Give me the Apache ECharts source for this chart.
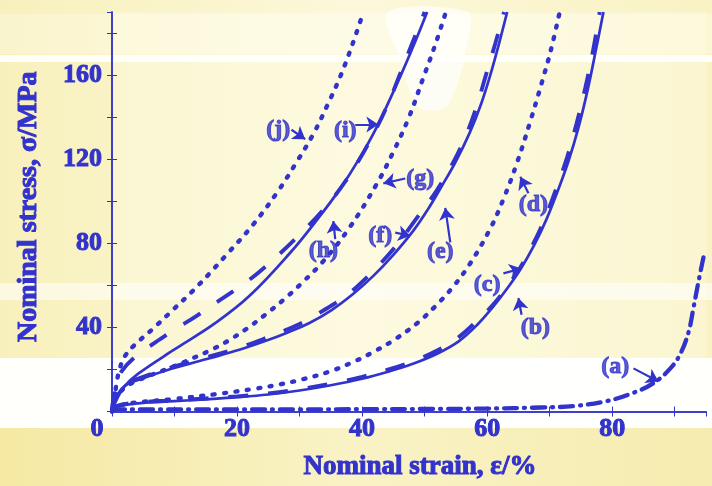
<!DOCTYPE html>
<html><head><meta charset="utf-8">
<script src="https://cdn.jsdelivr.net/npm/echarts@6/dist/echarts.min.js"></script>
<style>html,body{margin:0;padding:0;background:#faf4c8}#c{width:712px;height:486px}</style>
</head><body><div id="c"></div>
<script>
// ---- data (strain %, stress MPa) ----
const xTickLabels = [0, 20, 40, 60, 80];
const yTickLabels = [40, 80, 120, 160];

const curveA = [[0,1],[10,1],[20,1],[30,1],[40,1.1],[50,1.2],[60,1.4],[68.5,1.9],[73.8,2.6],[79.2,5],[83.4,8.9],[86.6,13.5],[89.3,20.5],[90.9,27.5],[92.2,37.7],[93,49.3],[93.8,61.8],[94.6,73.4]];
const curveB = [[0,0],[0.6,2],[4.2,3.9],[10,4.9],[15,5.8],[20,6.8],[25,8.1],[30,10],[35,12.5],[40,15.6],[44,18.8],[48,22.6],[52,27.5],[55.5,33.5],[58.5,41.5],[61,50],[63.2,58.5],[65.3,67.5],[67.5,79],[69.5,91.5],[71.3,105],[73,119],[74.6,135],[76,152],[77.4,172],[78.6,190]];
const curveC = [[0,0],[0.5,2.5],[4.2,4.3],[10,5.3],[15,6.2],[20,7.2],[25,8.6],[30,10.6],[35,13.2],[40,16.5],[44,19.8],[48,23.8],[52,29],[55.5,35.5],[58.5,43.5],[61,51],[63.2,59.5],[65.3,68.5],[67.5,80.5],[69.4,93],[71.1,106.5],[72.8,121],[74.3,137],[75.7,154],[76.9,171],[78,190]];
const curveD = [[0,0],[1,2.5],[3.7,4.2],[9.5,5.8],[16.5,8.2],[23,10.9],[27,13],[30.6,15.4],[34.6,18.8],[38.4,23.3],[42.1,28.8],[45.5,34.8],[48.8,42],[51.7,50],[54.6,59.5],[57.3,70.5],[60.5,87],[62.6,101],[64.8,118.5],[66.9,138],[68.7,156],[70.2,172],[71.6,190]];
const curveE = [[0,0],[0.5,6],[2.1,12.3],[4.2,15],[9.5,20.3],[14,24],[17.5,26.9],[21,30],[24.5,33.5],[28,37.5],[31.5,42],[35,48],[38.6,56],[41.8,64.5],[45,74.5],[48.2,86],[50.5,96],[52.7,107],[55,119],[57.2,132.5],[59,146],[60.5,160],[61.9,175],[63.2,190]];
const curveF = [[0,0],[0.4,7],[1.8,13],[4.2,15.6],[9.5,21],[14,24.8],[17.5,27.8],[21,31],[24.2,34.5],[27.7,38.6],[30.6,42.5],[33.5,47.5],[36.7,53.5],[39.4,60],[42.5,69],[45.5,79],[48.5,91],[51.9,105],[54.4,117.5],[56.5,130.5],[58.2,144],[59.8,160],[61.3,175],[62.7,190]];
const curveG = [[0,0],[0.8,7],[2.6,12.5],[5.8,16.8],[9.5,21],[12.5,24.8],[15.5,28.8],[18.5,33.5],[21.5,39.3],[24.5,46],[27.5,53.3],[30.5,61.5],[33.8,71.5],[38,87.5],[42.3,108],[45,123.5],[47.5,140],[49.7,158],[51.7,174.5],[53.4,190]];
const curveH = [[0,0],[0.6,12],[1.5,19],[3.9,26.5],[7,33],[10,39],[13.3,45],[16.5,51.5],[20,58.5],[23.4,66],[27,75.5],[30.3,85],[33.5,95],[36.5,106],[39.3,118.5],[42,133],[44.1,146],[46,160],[48,175],[50,190]];
const curveI = [[0,0],[0.75,5.7],[2,12],[4.2,18],[10,29.5],[16.5,42],[22,55],[28.5,75.5],[33,92],[36.5,106],[39.5,120],[42.3,135],[46.2,160],[48.3,174.5],[50.4,190]];
const curveJ = [[0,0],[0.3,3],[0.7,13],[1.3,21],[2,26],[3.4,31],[6.6,39.5],[9.8,48.5],[12.8,57],[15.7,66],[18.6,75.5],[22.6,89],[26.6,105],[29.5,118.5],[32.2,132],[34.5,146],[36.6,160],[38.5,175],[40.2,190]];

const noteText = ['(a)','(b)','(c)','(d)','(e)','(f)','(g)','(h)','(i)','(j)'];
const noteAt   = [[80.5,21.3],[67.7,40],[60,60.2],[67.4,98.4],[52.5,75.8],[42.9,83.6],[49.3,110.8],[33.8,76.6],[37.3,133.4],[26.6,134]];
const arrowFrom= [[83.4,20.5],[65.5,46],[62.6,65.7],[66.6,103.8],[54.1,80.4],[45.3,85.1],[46.9,110.8],[35.7,82],[38.9,136.5],[28.7,134]];
const arrowTo  = [[87.4,14.3],[65,54],[65.5,68],[65.3,111.6],[53.3,96.8],[47.7,83.6],[43.4,108.5],[35.4,90.6],[42.6,136.5],[30.9,129.5]];

// ---- styling ----
const BLUE = '#3232cc';
const FONT = '"Liberation Serif", "Times New Roman", serif';
const txt = (size) => ({color: BLUE, fontFamily: FONT, fontWeight: 'bold', fontSize: size, textBorderColor: BLUE, textBorderWidth: 1});
const styles = {
  solid:   {type:'solid', width:2.7},
  dashed:  {type:[20,20], width:3.9, cap:'butt'},
  dotted:  {type:[2,9.5], width:4.4, cap:'round'},
  dashdot: {type:[13,7,1,7], width:4.3, cap:'round'}
};
const curves = [
  ['a', curveA, 'dashdot'], ['b', curveB, 'solid'], ['c', curveC, 'dashed'], ['d', curveD, 'dotted'],
  ['e', curveE, 'solid'], ['f', curveF, 'dashed'], ['g', curveG, 'dotted'],
  ['h', curveH, 'dashed'], ['i', curveI, 'solid'], ['j', curveJ, 'dotted']
];

const series = curves.map(([n, d, s]) => ({
  name: n, type: 'line', data: d, showSymbol: false, smooth: 0.4,
  clip: true, lineStyle: Object.assign({color: BLUE}, styles[s]), z: 3
}));
series.push({
  type: 'lines', coordinateSystem: 'cartesian2d', z: 4,
  data: arrowFrom.map((f, i) => ({coords: [f, arrowTo[i]]})),
  symbol: ['none', 'arrow'], symbolSize: [0, 12],
  lineStyle: {color: BLUE, width: 2.2, opacity: 1}
});
series.push({
  type: 'scatter', z: 5, symbolSize: 1, itemStyle: {color: 'rgba(0,0,0,0)'},
  data: noteAt.map((p, i) => ({value: p, label: {formatter: noteText[i]}})),
  label: Object.assign({show: true, position: 'inside'}, txt(24))
});

const axisLine = {show: true, lineStyle: {color: BLUE, width: 1.5}};
const tick = {show: true, inside: true, length: 5, lineStyle: {color: BLUE, width: 1}};

const chart = echarts.init(document.getElementById('c'), null, {renderer: 'canvas'});
chart.setOption({
  backgroundColor: '#faf4c8',
  animation: false,
  graphic: [
    {type: 'rect', z: -10, shape: {x: 0, y: 0, width: 712, height: 486}, style: {fill: new echarts.graphic.LinearGradient(0,0,1,0,[{offset:0,color:'#f8f0bc'},{offset:0.5,color:'#fcf8da'},{offset:1,color:'#f9f2c4'}])}},
    {type: 'rect', z: -9, shape: {x: 112, y: 12, width: 594, height: 346}, style: {fill: 'rgba(255,255,240,0.3)'}},
    {type: 'rect', z: -9, shape: {x: 0, y: 14, width: 712, height: 40}, style: {fill: 'rgba(255,255,245,0.3)'}},
    {type: 'rect', z: -9, shape: {x: 0, y: 55, width: 712, height: 7}, style: {fill: 'rgba(255,255,255,0.9)'}},
    {type: 'rect', z: -9, shape: {x: 0, y: 283, width: 712, height: 17}, style: {fill: 'rgba(255,255,255,0.55)'}},
    {type: 'rect', z: -9, shape: {x: 0, y: 358, width: 712, height: 70}, style: {fill: 'rgba(255,255,255,0.95)'}},
    {type: 'rect', z: -9, shape: {x: 0, y: 428, width: 712, height: 58}, style: {fill: new echarts.graphic.LinearGradient(0,0,1,0,[{offset:0,color:'rgba(242,226,140,0.5)'},{offset:0.5,color:'rgba(245,232,160,0.35)'},{offset:1,color:'rgba(242,228,150,0.45)'}])}},
    {type: 'polygon', z: -9, shape: {points: [[388,12],[468,12],[468,40],[448,105],[420,108],[400,60]], smooth: 0.3}, style: {fill: 'rgba(255,255,255,0.7)'}}
  ],
  grid: {left: 112, right: 6, top: 12, bottom: 66, containLabel: false},
  xAxis: [{
    type: 'value', min: 0, max: 95, interval: 10, position: 'bottom',
    axisLine, axisTick: tick, splitLine: {show: false},
    axisLabel: Object.assign({
      margin: 5, showMaxLabel: false,
      formatter: v => xTickLabels.includes(v) ? (v === 0 ? '{z|0}' : String(v)) : '',
      rich: {z: Object.assign({padding: [0, 30, 0, 0]}, txt(26))}
    }, txt(26)),
    name: 'Nominal strain, ε/%', nameLocation: 'middle', nameGap: 42,
    nameTextStyle: Object.assign({padding: [0, 0, 0, 22]}, txt(27))
  }, {
    type: 'value', min: 0, max: 95, interval: 10, position: 'top',
    axisLine, axisTick: tick, axisLabel: {show: false}, splitLine: {show: false}
  }],
  yAxis: [{
    type: 'value', min: 0, max: 190, interval: 20, position: 'left',
    axisLine, axisTick: tick, splitLine: {show: false},
    axisLabel: Object.assign({
      margin: 10, showMaxLabel: false,
      formatter: v => yTickLabels.includes(v) ? String(v) : ''
    }, txt(26)),
    name: 'Nominal stress, σ/MPa', nameLocation: 'middle', nameGap: 69,
    nameTextStyle: Object.assign({padding: [0, 0, 0, 10]}, txt(28))
  }, {
    type: 'value', min: 0, max: 190, interval: 20, position: 'right',
    axisLine, axisTick: tick, axisLabel: {show: false}, splitLine: {show: false}
  }],
  series: series.map(s => Object.assign({xAxisIndex: 0, yAxisIndex: 0}, s))
});
</script></body></html>
